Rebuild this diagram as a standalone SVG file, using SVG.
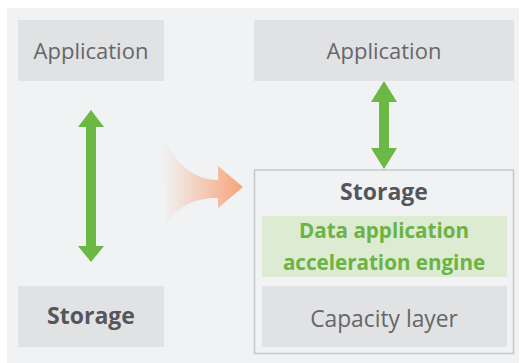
<svg xmlns="http://www.w3.org/2000/svg" width="520" height="363" viewBox="0 0 520 363">
  <defs>
    <style>
      .box { fill: #e1e2e4; }
      .lbl { font-family: "Open Sans", "Noto Sans", sans-serif; text-anchor: middle; }
      .app { font-size: 22px; fill: #666769; }
      .cap { font-size: 22.8px; fill: #666769; }
      .stor { font-size: 23px; font-weight: bold; fill: #555659; }
      .eng { font-size: 20.6px; font-weight: bold; fill: #6ab344; }
      .arrow { fill: #6bb844; }
    </style>
    <linearGradient id="orangeFade" gradientUnits="userSpaceOnUse" x1="163" y1="0" x2="243" y2="0">
      <stop offset="0" stop-color="#f6a47a" stop-opacity="0"/>
      <stop offset="1" stop-color="#f6a47a" stop-opacity="1"/>
    </linearGradient>
  </defs>

  <rect x="0" y="0" width="520" height="363" fill="#ffffff"/>
  <rect x="7" y="8" width="512" height="355" fill="#f1f2f4"/>

  <!-- left: conventional stack -->
  <g id="app-left">
    <rect class="box" x="18" y="20" width="146" height="61"/>
    <text class="lbl app" x="91" y="59">Application</text>
  </g>
  <g id="storage-left">
    <rect class="box" x="18" y="286" width="146" height="61"/>
    <text class="lbl stor" x="91" y="324">Storage</text>
  </g>

  <!-- right: storage with acceleration engine -->
  <g id="app-right">
    <rect class="box" x="254" y="20" width="260" height="61"/>
    <text class="lbl app" x="384" y="59">Application</text>
  </g>
  <g id="storage-right">
    <rect x="254.5" y="170" width="259" height="183.5" fill="#f1f2f4" stroke="#c6c7c9" stroke-width="1.5"/>
    <text class="lbl stor" x="384" y="200">Storage</text>
    <g id="engine">
      <rect x="262" y="216" width="245" height="61" fill="#dcebd2"/>
      <text class="lbl eng" x="384" y="238">Data application</text>
      <text class="lbl eng" x="384" y="270">acceleration engine</text>
    </g>
    <g id="capacity">
      <rect class="box" x="262" y="286" width="245" height="61"/>
      <text class="lbl cap" x="384" y="327">Capacity layer</text>
    </g>
  </g>

  <!-- connectors -->
  <g id="connectors">
    <path class="arrow" d="M91,110 L104,127 L96,127 L96,246 L104,246 L91,262 L78,246 L86,246 L86,127 L78,127 Z"/>
    <path class="arrow" d="M384,81 L397,102 L389,102 L389,148 L397,148 L384,169 L371,148 L379,148 L379,102 L371,102 Z"/>
    <path d="M163,135 C175,165 195,180 218,180 L218,166 L243,187 L218,208 L218,198 C196,198 178,205 166,225 Z" fill="url(#orangeFade)"/>
  </g>
</svg>
